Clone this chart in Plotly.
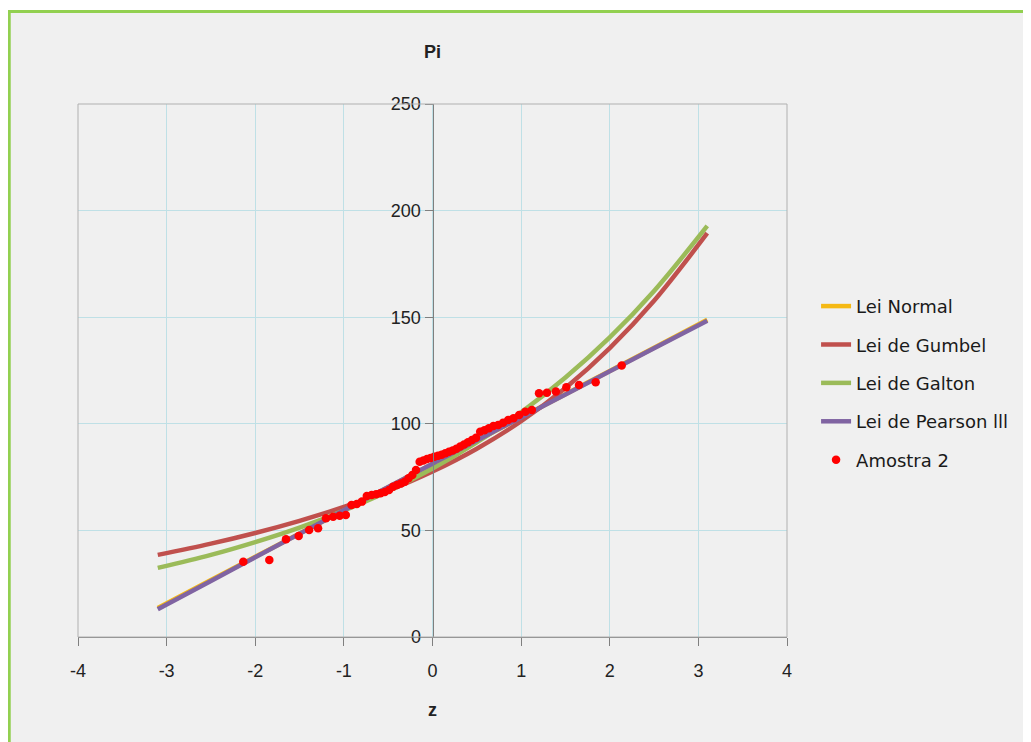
"""
Pi vs z probability plot: fitted laws (Normal, Gumbel, Galton, Pearson III)
against the sample points of "Amostra 2".
"""

import plotly.graph_objects as go

# z grid for the fitted curves
Z_CURVE = [-3.1, -2.5, -2.0, -1.5, -1.0, -0.5, 0.0, 0.5, 1.0, 1.5, 2.0, 2.5, 3.1]

NORMAL = [13.6, 26.7, 37.6, 48.5, 59.4, 70.3, 81.2, 92.1, 103.0, 113.9, 124.8, 135.7, 148.8]
GUMBEL = [38.5, 43.8, 48.8, 54.5, 61.0, 68.6, 77.6, 88.3, 101.2, 116.8, 135.5, 157.7, 189.4]
GALTON = [32.4, 38.5, 44.5, 51.3, 59.3, 68.4, 79.0, 91.3, 105.4, 121.7, 140.5, 162.3, 192.8]
PEARSON = [13.0, 26.3, 37.4, 48.4, 59.4, 70.4, 81.3, 92.2, 103.0, 113.8, 124.6, 135.4, 148.3]

# sample: reduced variable z and observed Pi
Z_SAMPLE = [
    -2.135, -1.841, -1.653, -1.510, -1.392, -1.291, -1.202, -1.121, -1.047, -0.978,
    -0.914, -0.854, -0.796, -0.741, -0.687, -0.636, -0.586, -0.538, -0.491, -0.445,
    -0.400, -0.356, -0.313, -0.270, -0.228, -0.186, -0.145, -0.103, -0.062, -0.021,
    0.021, 0.062, 0.103, 0.145, 0.186, 0.228, 0.270, 0.313, 0.356, 0.400,
    0.445, 0.491, 0.538, 0.586, 0.636, 0.687, 0.741, 0.796, 0.854, 0.914,
    0.978, 1.047, 1.121, 1.202, 1.291, 1.392, 1.510, 1.653, 1.841, 2.135,
]
P_SAMPLE = [
    35.3, 36.1, 45.8, 47.4, 50.2, 51.0, 55.7, 56.4, 56.9, 57.2,
    61.9, 62.4, 63.5, 66.1, 66.6, 67.0, 67.4, 68.0, 69.0, 70.5,
    71.3, 72.0, 72.8, 74.5, 76.0, 78.3, 82.2, 82.8, 83.5, 84.0,
    84.6, 85.0, 85.5, 86.2, 86.9, 87.5, 88.3, 89.3, 90.3, 91.4,
    92.4, 93.5, 96.3, 97.0, 97.9, 99.0, 99.4, 100.5, 101.8, 102.6,
    104.1, 105.7, 106.5, 114.3, 114.6, 115.1, 117.1, 118.2, 119.5, 127.3,
]

X_TICKS = [-4, -3, -2, -1, 0, 1, 2, 3, 4]
X_TICKTEXT = ["-4", "-3", "-2", "-1", "0", "1", "2", "3", "4"]
Y_TICKS = [0, 50, 100, 150, 200, 250]

_COLORS = {
    "normal": "#f5b914",
    "gumbel": "#c0504d",
    "galton": "#9bbb59",
    "pearson": "#8064a2",
    "sample": "#ff0000",
    "grid": "#bfe0e6",
    "axis": "#7f7f7f",
    "frame": "#92d050",
}

NUM_FONT = "Liberation Sans Narrow, Arial Narrow, Liberation Sans, sans-serif"
LEG_FONT = "DejaVu Sans, Verdana, sans-serif"

fig = go.Figure()

for name, vals, key in [
    ("Lei Normal", NORMAL, "normal"),
    ("Lei de Gumbel", GUMBEL, "gumbel"),
    ("Lei de Galton", GALTON, "galton"),
    ("Lei de Pearson lll", PEARSON, "pearson"),
]:
    fig.add_trace(go.Scatter(
        x=Z_CURVE, y=vals, name=name, mode="lines", legendgroup=name,
        line=dict(color=_COLORS[key], width=4.5, shape="spline"),
    ))

fig.add_trace(go.Scatter(
    x=Z_SAMPLE, y=P_SAMPLE, name="Amostra 2", mode="markers", legendgroup="amostra",
    marker=dict(color=_COLORS["sample"], size=8.5),
))

# light grey panel with green frame, like the spreadsheet chart area
fig.add_shape(
    type="rect", xref="paper", yref="paper",
    x0=-0.097, x1=1.4, y0=-0.3, y1=1.1735,
    fillcolor="#f0f0f0", line=dict(color=_COLORS["frame"], width=3), layer="below",
)
# plot area border
fig.add_shape(
    type="rect", xref="paper", yref="paper", x0=0, x1=1, y0=0, y1=1,
    line=dict(color="#b0b0b0", width=1), layer="above",
)

fig.add_annotation(
    text="<b>Pi</b>", xref="paper", yref="paper", x=0.5, y=1.0 + 52 / 533,
    yanchor="middle", showarrow=False, font=dict(family=NUM_FONT, size=18, color="#222"),
)
fig.add_annotation(
    text="<b>z</b>", xref="paper", yref="paper", x=0.5, y=-(710 - 637) / 533,
    yanchor="middle", showarrow=False, font=dict(family=NUM_FONT, size=18, color="#222"),
)

# page body has an 8px margin, so the figure is 8px smaller than the window
fig.update_layout(
    width=1023, height=734,
    margin=dict(l=70, r=244, t=96, b=105),
    paper_bgcolor="#ffffff",
    plot_bgcolor="#fafae3",
    showlegend=True,
    legend=dict(
        x=1.041, xanchor="left", y=0.655, yanchor="top",
        font=dict(family=LEG_FONT, size=18, color="#1a1a1a"),
        bgcolor="rgba(0,0,0,0)", tracegroupgap=12,
    ),
    xaxis=dict(
        range=[-4, 4], tickvals=X_TICKS, ticktext=X_TICKTEXT,
        showgrid=True, gridcolor=_COLORS["grid"],
        zeroline=False, showline=True, linecolor=_COLORS["axis"],
        ticks="outside", ticklen=8, tickcolor=_COLORS["axis"], ticklabelstandoff=9,
        tickfont=dict(family=NUM_FONT, size=18, color="#222"),
    ),
    yaxis=dict(
        range=[0, 250], tickvals=Y_TICKS, showgrid=True, gridcolor=_COLORS["grid"],
        zeroline=False, showline=True, linecolor=_COLORS["axis"],
        anchor="free", position=0.5,
        ticks="outside", ticklen=8, tickcolor=_COLORS["axis"],
        tickfont=dict(family=NUM_FONT, size=18, color="#222"),
    ),
)

fig.write_html("out.html")
